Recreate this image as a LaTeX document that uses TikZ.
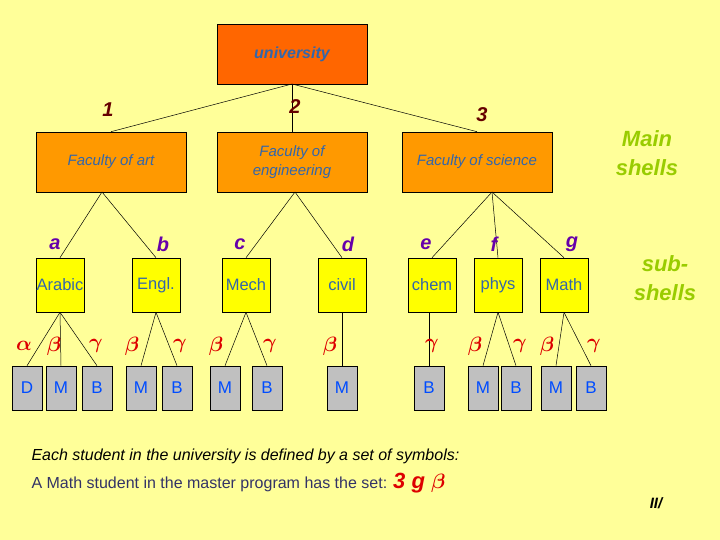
\documentclass[tikz,border=0pt]{standalone}
\usepackage{fontspec}
\usepackage{amsmath}
\setmainfont{Liberation Sans}
\definecolor{bg}{HTML}{FFFF99}
\definecolor{uni}{HTML}{FF6600}
\definecolor{fac}{HTML}{FF9900}
\definecolor{sub}{HTML}{FFFF00}
\definecolor{leaf}{HTML}{C0C0C0}
\definecolor{txtb}{HTML}{3366AA}
\definecolor{lblr}{HTML}{660000}
\definecolor{lblp}{HTML}{6600AA}
\definecolor{grk}{HTML}{DD0000}
\definecolor{grn}{HTML}{99CC00}
\definecolor{navy}{HTML}{333366}
\begin{document}
\begin{tikzpicture}[x=1pt,y=-1pt,
 box/.style={draw=black,line width=0.6pt,inner sep=0pt,align=center,text=txtb},
 big/.style={box,minimum width=150pt,minimum height=60pt,font=\itshape\fontsize{15}{19}\selectfont},
 sb/.style={box,fill=sub,minimum width=48pt,minimum height=54pt,font=\fontsize{16.5}{19}\selectfont},
 lf/.style={box,fill=leaf,minimum width=30pt,minimum height=44pt,text=blue!70!cyan,font=\fontsize{17}{19}\selectfont},
 num/.style={text=lblr,font=\bfseries\itshape\fontsize{20}{22}\selectfont},
 let/.style={text=lblp,font=\bfseries\itshape\fontsize{20}{22}\selectfont},
 gk/.style={text=grk,font=\fontsize{22}{24}\selectfont},
 ln/.style={draw=black,line width=0.5pt}]
\fill[bg] (0,0) rectangle (720,540);
\useasboundingbox (0,0) rectangle (720,540);
\node[big,fill=uni,font=\bfseries\itshape\fontsize{16}{19}\selectfont] (uni) at (292,54) {university};
\node[big,fill=fac] (art) at (111,162) {Faculty of art};
\node[big,fill=fac] (eng) at (292,162) {Faculty of\\engineering};
\node[big,fill=fac] (sci) at (477,162) {Faculty of science};
\coordinate (ub) at (292,84);
\draw[ln] (ub) -- (art.north) ; \draw[ln] (ub) -- (eng.north); \draw[ln] (ub) -- (sci.north);
\node[num] at (108,110) {1};
\node[num] at (295,107) {2};
\node[num] at (482,115) {3};
\node[text=grn,font=\bfseries\itshape\fontsize{22}{29}\selectfont,align=center] at (647,153) {Main\\shells};
\node[text=grn,font=\bfseries\itshape\fontsize{22}{29}\selectfont,align=center] at (665,278) {sub-\\shells};
% sub boxes
\node[sb] (ara) at (60,285) {Arabic};
\node[sb] (engl) at (156,285) {Engl.};
\node[sb] (mech) at (246,285) {Mech};
\node[sb] (civ) at (342,285) {civil};
\node[sb] (chem) at (432,285) {chem};
\node[sb] (phys) at (498,285) {phys};
\node[sb] (math) at (564,285) {Math};
\coordinate (artb) at (102,192); \coordinate (engb) at (295,192); \coordinate (scib) at (492,192);
\draw[ln] (artb) -- (ara.north); \draw[ln] (artb) -- (engl.north);
\draw[ln] (engb) -- (mech.north); \draw[ln] (engb) -- (civ.north);
\draw[ln] (scib) -- (chem.north); \draw[ln] (scib) -- (phys.north); \draw[ln] (scib) -- (math.north);
\node[let] at (55,244) {a}; \node[let] at (163,244) {b}; \node[let] at (240,244) {c};
\node[let] at (348,244) {d}; \node[let] at (426,244) {e}; \node[let] at (494,244) {f};
\node[let] at (572,244) {g};
% leaves
\node[lf] (l1) at (27,388) {D}; \node[lf] (l2) at (61,388) {M}; \node[lf] (l3) at (97,388) {B};
\node[lf] (l4) at (141,388) {M}; \node[lf] (l5) at (177,388) {B};
\node[lf] (l6) at (225,388) {M}; \node[lf] (l7) at (267,388) {B};
\node[lf] (l8) at (342,388) {M};
\node[lf] (l9) at (429,388) {B};
\node[lf] (l10) at (483,388) {M}; \node[lf] (l11) at (516,388) {B};
\node[lf] (l12) at (556,388) {M}; \node[lf] (l13) at (591,388) {B};
\foreach \p/\c in {ara/l1,ara/l2,ara/l3,engl/l4,engl/l5,mech/l6,mech/l7,civ/l8,phys/l10,phys/l11,math/l12,math/l13}
  \draw[ln] (\p.south) -- (\c.north);
\draw[ln] (429,312) -- (l9.north);
\foreach \x/\g in {24/\alpha,54/\beta,96/\gamma,132/\beta,180/\gamma,216/\beta,270/\gamma,330/\beta,432/\gamma,475/\beta,520/\gamma,547/\beta,594/\gamma}
  \node[gk] at (\x,346) {$\boldsymbol{\g}$};
\node[anchor=west,font=\itshape\fontsize{16}{18}\selectfont] at (28,456) {Each student in the university is defined by a set of symbols:};
\node[anchor=west,text=navy,font=\fontsize{16}{18}\selectfont] at (28,483) {A Math student in the master program has the set: \textcolor{grk}{\bfseries\itshape\fontsize{22}{24}\selectfont 3 g $\boldsymbol{\beta}$}};
\node[font=\bfseries\itshape\fontsize{15}{17}\selectfont,text=black] at (656,503) {II/};
\end{tikzpicture}
\end{document}
